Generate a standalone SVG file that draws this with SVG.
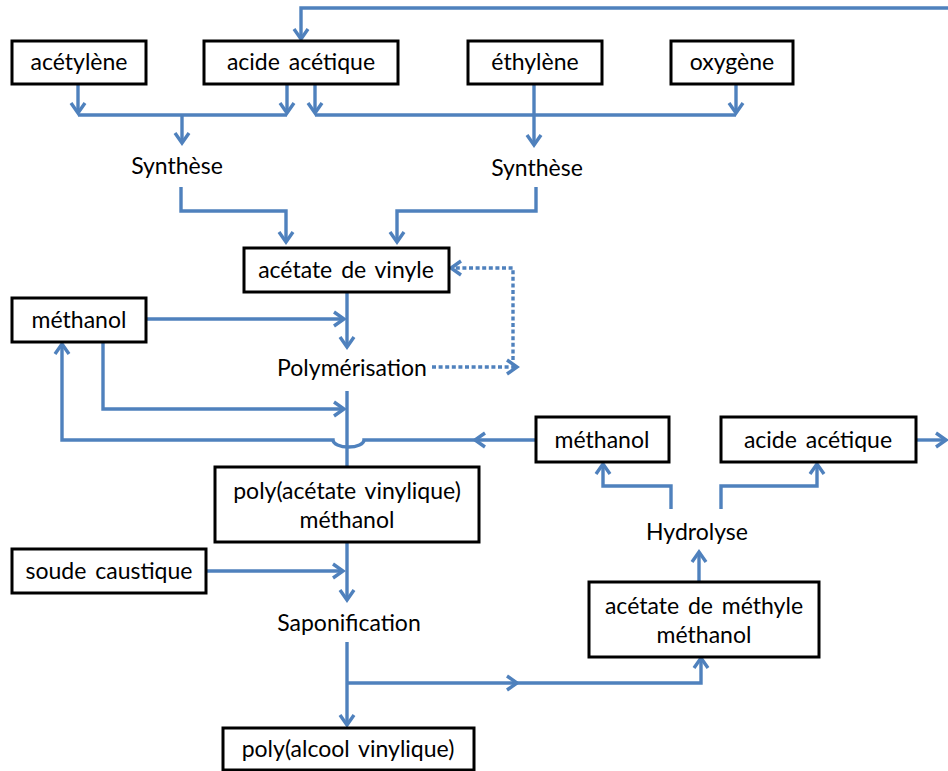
<svg xmlns="http://www.w3.org/2000/svg" width="948" height="771" viewBox="0 0 948 771">
<style>
.box{fill:#fff;stroke:#000;stroke-width:3}
.t{font-family:Lato,"Open Sans",sans-serif;font-size:23px;fill:#000;text-anchor:middle;dominant-baseline:central;word-spacing:3px}
.c{fill:none;stroke:#4F81BD;stroke-width:3.4}
.a{marker-end:url(#ah)}
.d{stroke-dasharray:4 2.6}
</style>
<defs>
<marker id="ah" markerUnits="userSpaceOnUse" viewBox="-13 -9 15 18" refX="0" refY="0" markerWidth="15" markerHeight="18" orient="auto" overflow="visible">
<path d="M-10,-7 L0,0 L-10,7" fill="none" stroke="#4F81BD" stroke-width="3.4"/>
</marker>
</defs>
<rect width="948" height="771" fill="#fff"/>
<g id="connectors">
<path class="c a" d="M950 8 H301 V39"/>
<path class="c a" d="M78 84 V113"/>
<path class="c a" d="M287 84 V113"/>
<path class="c" d="M78 115 H287"/>
<path class="c a" d="M182 115 V143"/>
<path class="c a" d="M315 84 V113"/>
<path class="c" d="M315 115 H736"/>
<path class="c a" d="M736 84 V113"/>
<path class="c a" d="M534 84 V145"/>
<path class="c a" d="M181 187 V211 H286 V242"/>
<path class="c a" d="M536 187 V211 H397 V242"/>
<path class="c a" d="M347 292 V347"/>
<path class="c a" d="M146 319 H344"/>
<path class="c a d" d="M432 367 H517"/>
<path class="c a d" d="M513 360 V268 H451"/>
<path class="c" d="M347 391 V467"/>
<path class="c a" d="M103 342 V409 H344"/>
<path class="c a" d="M536 440 H475"/>
<path class="c a" d="M476 440 H364 A15.5 7 0 0 1 333 440 H62 V344"/>
<path class="c a" d="M347 542 V600"/>
<path class="c a" d="M206 571 H343"/>
<path class="c a" d="M347 642 V725"/>
<path class="c a" d="M347 683 H517"/>
<path class="c a" d="M516 683 H701 V658"/>
<path class="c a" d="M699 581 V552"/>
<path class="c a" d="M671 509 V486 H603 V464"/>
<path class="c a" d="M721 509 V486 H817 V464"/>
<path class="c a" d="M916 440 H946"/>
</g>
<g id="acetylene"><rect class="box" x="12" y="41" width="134" height="43"/><text class="t" x="79" y="61">acétylène</text></g>
<g id="acide-acetique-1"><rect class="box" x="204" y="41" width="194" height="43"/><text class="t" x="301" y="61">acide acétique</text></g>
<g id="ethylene"><rect class="box" x="468" y="41" width="134" height="43"/><text class="t" x="535" y="61">éthylène</text></g>
<g id="oxygene"><rect class="box" x="671" y="41" width="122" height="43"/><text class="t" x="732" y="61">oxygène</text></g>
<g id="synthese-1"><text class="t" x="177" y="165">Synthèse</text></g>
<g id="synthese-2"><text class="t" x="537" y="167">Synthèse</text></g>
<g id="acetate-vinyle"><rect class="box" x="244" y="248" width="205" height="44"/><text class="t" x="346" y="269">acétate de vinyle</text></g>
<g id="methanol-1"><rect class="box" x="12" y="298" width="134" height="44"/><text class="t" x="79" y="319">méthanol</text></g>
<g id="polymerisation"><text class="t" x="352" y="367">Polymérisation</text></g>
<g id="methanol-2"><rect class="box" x="536" y="417" width="133" height="45"/><text class="t" x="602" y="439">méthanol</text></g>
<g id="acide-acetique-2"><rect class="box" x="721" y="417" width="195" height="45"/><text class="t" x="818" y="439">acide acétique</text></g>
<g id="poly-acetate"><rect class="box" x="215" y="467" width="264" height="75"/><text class="t" x="347" y="490">poly(acétate vinylique)</text><text class="t" x="347" y="519">méthanol</text></g>
<g id="soude"><rect class="box" x="12" y="549" width="194" height="44"/><text class="t" x="109" y="570">soude caustique</text></g>
<g id="saponification"><text class="t" x="349" y="622">Saponification</text></g>
<g id="hydrolyse"><text class="t" x="697" y="531">Hydrolyse</text></g>
<g id="acetate-methyle"><rect class="box" x="589" y="582" width="230" height="75"/><text class="t" x="704" y="605">acétate de méthyle</text><text class="t" x="704" y="634">méthanol</text></g>
<g id="poly-alcool"><rect class="box" x="223" y="728" width="251" height="42"/><text class="t" x="348" y="748">poly(alcool vinylique)</text></g>
</svg>
